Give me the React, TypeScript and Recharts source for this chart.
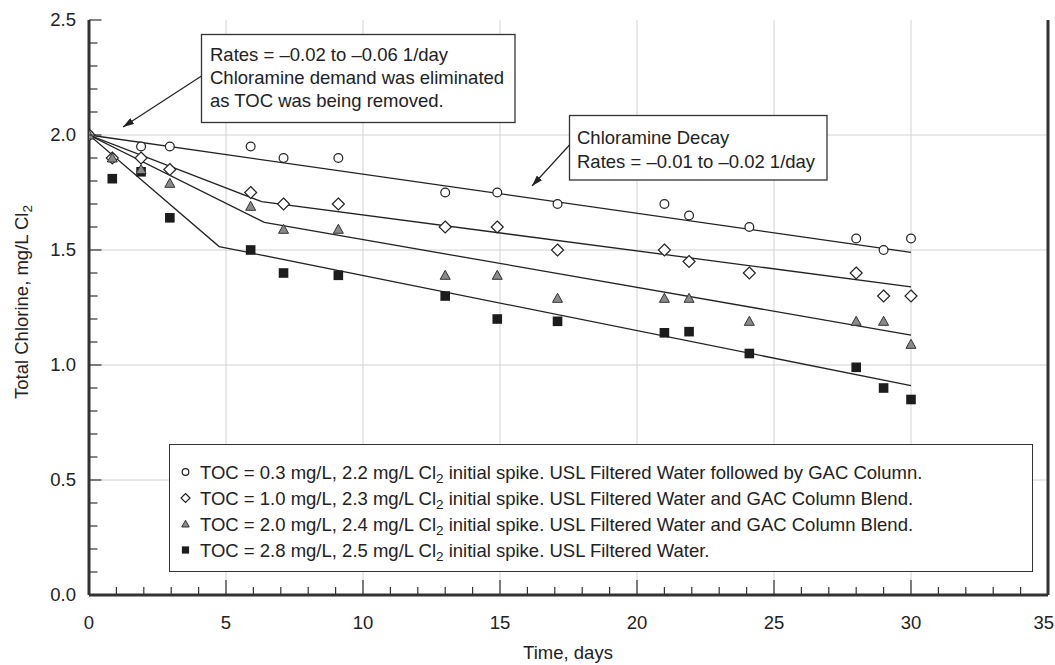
import React from 'react'
import { ComposedChart, Scatter, XAxis, YAxis, ReferenceLine, Legend } from 'recharts'

const FONT = '"Liberation Sans", Arial, Helvetica, sans-serif'
const INK = '#222'
const FS = 18.5

// sampling days (shared by all four runs)
const days = [0, 0.85, 1.9, 2.95, 5.9, 7.1, 9.1, 13, 14.9, 17.1, 21, 21.9, 24.1, 28, 29, 30]

// total chlorine, mg/L Cl2 (null = no point drawn)
const toc03 = [2.0, null, 1.95, 1.95, 1.95, 1.9, 1.9, 1.75, 1.75, 1.7, 1.7, 1.65, 1.6, 1.55, 1.5, 1.55]
const toc10 = [2.0, 1.9, 1.9, 1.85, 1.75, 1.7, 1.7, 1.6, 1.6, 1.5, 1.5, 1.45, 1.4, 1.4, 1.3, 1.3]
const toc20 = [2.0, 1.9, 1.85, 1.79, 1.69, 1.59, 1.59, 1.39, 1.39, 1.29, 1.29, 1.29, 1.19, 1.19, 1.19, 1.09]
const toc28 = [null, 1.81, 1.84, 1.64, 1.5, 1.4, 1.39, 1.3, 1.2, 1.19, 1.14, 1.145, 1.05, 0.99, 0.9, 0.85]

// fitted decay lines (day, value) break points
const fit03Days = [0, 30]
const fit03 = [2.0, 1.49]
const fit10Days = [0, 6.3, 30]
const fit10 = [2.0, 1.71, 1.34]
const fit20Days = [0, 6.4, 30]
const fit20 = [2.0, 1.62, 1.13]
const fit28Days = [0, 4.75, 30]
const fit28 = [2.0, 1.515, 0.91]

const xTicks = [0, 1, 2, 3, 4, 5, 6, 7, 8, 9, 10, 11, 12, 13, 14, 15, 16, 17, 18, 19, 20, 21, 22, 23, 24, 25, 26, 27, 28, 29, 30, 31, 32, 33, 34, 35]
const yTicks = [0, 0.1, 0.2, 0.3, 0.4, 0.5, 0.6, 0.7, 0.8, 0.9, 1.0, 1.1, 1.2, 1.3, 1.4, 1.5, 1.6, 1.7, 1.8, 1.9, 2.0, 2.1, 2.2, 2.3, 2.4, 2.5]
const xGrid = [5, 10, 15, 20, 25, 30]
const yGrid = [0.5, 1.0, 1.5, 2.0]

const legendRows = [
  { shape: 'circle', toc: '0.3', cl: '2.2', desc: 'USL Filtered Water followed by GAC Column.' },
  { shape: 'diamond', toc: '1.0', cl: '2.3', desc: 'USL Filtered Water and GAC Column Blend.' },
  { shape: 'triangle', toc: '2.0', cl: '2.4', desc: 'USL Filtered Water and GAC Column Blend.' },
  { shape: 'square', toc: '2.8', cl: '2.5', desc: 'USL Filtered Water.' },
]

const pts = (xs: number[], ys: (number | null)[]) =>
  xs.map((d, i) => ({ day: d, v: ys[i] })).filter((p) => p.v !== null)

const Marker = ({ kind, cx, cy, s = 1 }: { kind: string; cx: number; cy: number; s?: number }) => {
  if (kind === 'circle') return <circle cx={cx} cy={cy} r={4.4 * s} fill='#fff' stroke={INK} strokeWidth={1.2} />
  if (kind === 'diamond') {
    const h = 6 * s
    return <polygon points={`${cx},${cy - h} ${cx + h},${cy} ${cx},${cy + h} ${cx - h},${cy}`} fill='#fff' stroke={INK} strokeWidth={1.2} />
  }
  if (kind === 'triangle') {
    const h = 5 * s
    return <polygon points={`${cx},${cy - h} ${cx + h},${cy + h * 0.8} ${cx - h},${cy + h * 0.8}`} fill='#8a8a8a' stroke='#333' strokeWidth={1} />
  }
  const h = 4.8 * s
  return <rect x={cx - h} y={cy - h} width={h * 2} height={h * 2} fill='#1c1c1c' />
}

const XTick = (props: any) => {
  const { x, y, payload } = props
  const v = payload.value
  const major = v % 5 === 0
  const last = v === 35
  return (
    <g>
      <line x1={x} y1={y} x2={x} y2={y - (major ? 15 : 8)} stroke='#333' strokeWidth={1.2} />
      {major && (
        <text x={last ? x + 6 : x} y={y + 34} textAnchor={last ? 'end' : 'middle'} fontSize={FS} fill={INK} fontFamily={FONT}>
          {v}
        </text>
      )}
    </g>
  )
}

const YTick = (props: any) => {
  const { x, y, payload } = props
  const v = payload.value
  const major = Math.abs(v * 2 - Math.round(v * 2)) < 1e-6
  return (
    <g>
      <line x1={x} y1={y} x2={x + (major ? 12.5 : 8.5)} y2={y} stroke='#333' strokeWidth={1.2} />
      {major && (
        <text x={x - 13} y={y + 6.3} textAnchor='end' fontSize={FS} fill={INK} fontFamily={FONT}>
          {v.toFixed(1)}
        </text>
      )}
    </g>
  )
}

const LegendBox = () => (
  <div
    style={{
      width: 864,
      height: 128,
      boxSizing: 'border-box',
      border: '1.3px solid #333',
      background: '#fff',
      paddingTop: 15,
      fontFamily: FONT,
      fontSize: FS,
      color: INK,
    }}
  >
    {legendRows.map((r) => (
      <div key={r.shape} style={{ height: 26, display: 'flex', alignItems: 'center', whiteSpace: 'nowrap' }}>
        <svg width={30} height={26} style={{ flex: 'none' }}>
          <Marker kind={r.shape} cx={15.5} cy={12} s={0.75} />
        </svg>
        <span>
          TOC = {r.toc} mg/L, {r.cl} mg/L Cl
          <span style={{ fontSize: 13.5, position: 'relative', top: 4 }}>2</span> initial spike. {r.desc}
        </span>
      </div>
    ))}
  </div>
)

const fitLine = { stroke: INK, strokeWidth: 1.3 }
const noShape = () => <g />

export default function App() {
  return (
    <div style={{ position: 'absolute', left: 0, top: 0, width: 1055, height: 665, background: '#fff', fontFamily: FONT }}>
      <ComposedChart width={1055} height={665} margin={{ top: 20, right: 7, bottom: 0, left: 0 }}>
        <XAxis
          type='number'
          dataKey='day'
          domain={[0, 35]}
          ticks={xTicks}
          interval={0}
          height={70}
          tickSize={0}
          tickMargin={0}
          tickLine={false}
          axisLine={false}
          tick={<XTick />}
          allowDataOverflow
        />
        <XAxis
          xAxisId='frameTop'
          orientation='top'
          type='number'
          dataKey='day'
          domain={[0, 35]}
          height={0}
          tick={false}
          tickLine={false}
          axisLine={{ stroke: '#333', strokeWidth: 3 }}
          allowDataOverflow
        />
        <YAxis
          type='number'
          dataKey='v'
          domain={[0, 2.5]}
          ticks={yTicks}
          interval={0}
          width={89}
          tickSize={0}
          tickMargin={0}
          tickLine={false}
          axisLine={false}
          tick={<YTick />}
          allowDataOverflow
        />
        {xGrid.map((g) => (
          <ReferenceLine key={'x' + g} x={g} stroke='#d2d2d2' strokeWidth={1} />
        ))}
        {yGrid.map((g) => (
          <ReferenceLine key={'y' + g} y={g} stroke='#d2d2d2' strokeWidth={1} />
        ))}
        <ReferenceLine x={0} stroke='#333' strokeWidth={3} ifOverflow='visible' />
        <ReferenceLine x={35} stroke='#333' strokeWidth={3} ifOverflow='visible' />
        <ReferenceLine y={0} stroke='#333' strokeWidth={3} ifOverflow='visible' />
        <Scatter data={pts(fit03Days, fit03)} line={fitLine} lineType='joint' shape={noShape} legendType='none' isAnimationActive={false} />
        <Scatter data={pts(fit10Days, fit10)} line={fitLine} lineType='joint' shape={noShape} legendType='none' isAnimationActive={false} />
        <Scatter data={pts(fit20Days, fit20)} line={fitLine} lineType='joint' shape={noShape} legendType='none' isAnimationActive={false} />
        <Scatter data={pts(fit28Days, fit28)} line={fitLine} lineType='joint' shape={noShape} legendType='none' isAnimationActive={false} />
        <Scatter data={pts(days, toc28)} shape={(p: any) => <Marker kind='square' cx={p.cx} cy={p.cy} />} isAnimationActive={false} />
        <Scatter data={pts(days, toc03)} shape={(p: any) => <Marker kind='circle' cx={p.cx} cy={p.cy} />} isAnimationActive={false} />
        <Scatter data={pts(days, toc10)} shape={(p: any) => <Marker kind='diamond' cx={p.cx} cy={p.cy} />} isAnimationActive={false} />
        <Scatter data={pts(days, toc20)} shape={(p: any) => <Marker kind='triangle' cx={p.cx} cy={p.cy} />} isAnimationActive={false} />
        <Legend
          layout='vertical'
          align='center'
          verticalAlign='middle'
          content={() => <LegendBox />}
          wrapperStyle={{ left: 169, top: 444, width: 864, height: 128 }}
        />
      </ComposedChart>
      <svg width={1055} height={665} style={{ position: 'absolute', left: 0, top: 0, pointerEvents: 'none' }}>
        <defs>
          <marker id='arrowHead' markerWidth={11} markerHeight={7} refX={11} refY={3.5} orient='auto' markerUnits='userSpaceOnUse'>
            <path d='M0,0 L11,3.5 L0,7 z' fill={INK} />
          </marker>
        </defs>
        <rect x={201.5} y={34.5} width={313.5} height={88} fill='#fff' stroke='#333' strokeWidth={1.3} />
        <text x={210} y={61} fontSize={FS} fill={INK} fontFamily={FONT}>Rates = –0.02 to –0.06 1/day</text>
        <text x={210} y={84} fontSize={FS} fill={INK} fontFamily={FONT}>Chloramine demand was eliminated</text>
        <text x={210} y={106.5} fontSize={FS} fill={INK} fontFamily={FONT}>as TOC was being removed.</text>
        <line x1={201.5} y1={76} x2={123} y2={127} stroke={INK} strokeWidth={1.2} markerEnd='url(#arrowHead)' />
        <rect x={569.5} y={115.5} width={257.5} height={64.5} fill='#fff' stroke='#333' strokeWidth={1.3} />
        <text x={577} y={143.5} fontSize={FS} fill={INK} fontFamily={FONT}>Chloramine Decay</text>
        <text x={577} y={168} fontSize={FS} fill={INK} fontFamily={FONT}>Rates = –0.01 to –0.02 1/day</text>
        <line x1={569.5} y1={145} x2={532} y2={186} stroke={INK} strokeWidth={1.2} markerEnd='url(#arrowHead)' />
        <text x={568} y={659} textAnchor='middle' fontSize={FS} fill={INK} fontFamily={FONT}>Time, days</text>
        <text transform='translate(28,302) rotate(-90)' textAnchor='middle' fontSize={FS} fill={INK} fontFamily={FONT}>
          Total Chlorine, mg/L Cl<tspan fontSize={13.5} dy={4}>2</tspan>
        </text>
      </svg>
    </div>
  )
}
